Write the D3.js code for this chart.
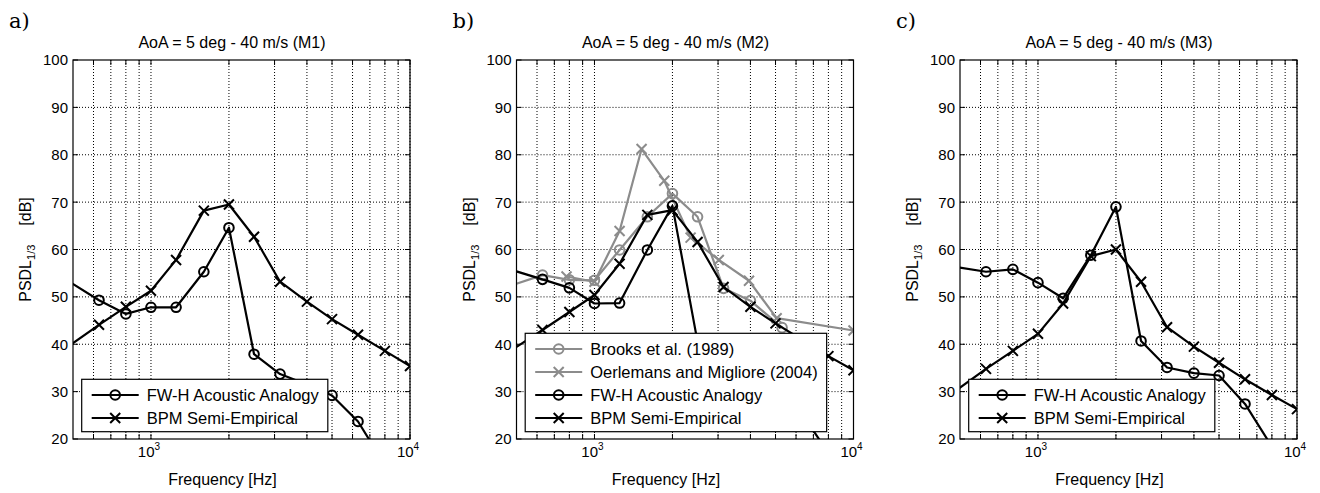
<!DOCTYPE html>
<html>
<head>
<meta charset="utf-8">
<script src="https://cdn.jsdelivr.net/npm/d3@7"></script>
<style>
  body { margin: 0; background: #fff; }
  svg text { font-family: "Liberation Sans", Arial, sans-serif; fill: #000; }
  .grid line { stroke: #000; stroke-width: 1; stroke-dasharray: 1,2; }
</style>
</head>
<body>
<div class="chart"></div>
<script>
// frequencies (1/3 octave, Hz)
var freqFull = [400, 630, 800, 1000, 1250, 1600, 2000, 2500, 3150, 4000, 5000, 6300, 8000, 10000];
var freqFwh  = [400, 630, 800, 1000, 1250, 1600, 2000, 2500, 3150, 4000, 5000, 6300, 8000];

// panel a (M1)
var fwhM1 = [56.0, 49.3, 46.4, 47.8, 47.8, 55.3, 64.6, 37.9, 33.7, 31.5, 29.2, 23.7, 14.5];
var bpmM1 = [36.5, 44.1, 47.9, 51.3, 57.8, 68.2, 69.5, 62.7, 53.2, 49.0, 45.3, 42.0, 38.6, 35.4];

// panel b (M2) + reference data
var freqBrooks = [400, 630, 800, 1000, 1250, 1600, 2000, 2500, 3150, 4000, 5300];
var brooks     = [51.0, 54.6, 53.6, 53.5, 59.9, 66.9, 71.8, 66.9, 51.8, 49.2, 43.5];
var freqOerl   = [780, 1000, 1250, 1520, 1860, 2350, 3020, 3950, 5050, 10000];
var oerlemans  = [54.3, 53.2, 63.9, 81.2, 74.5, 62.5, 57.8, 53.4, 45.5, 42.9];
var fwhM2 = [57.0, 53.7, 51.9, 48.6, 48.7, 59.9, 69.2, 40.5, 34.0, 31.0, 28.0, 25.5, 17.0];
var bpmM2 = [36.0, 43.0, 46.8, 50.4, 57.0, 67.3, 68.3, 61.6, 52.1, 47.9, 44.4, 41.0, 37.5, 34.5];

// panel c (M3)
var fwhM3 = [57.0, 55.3, 55.8, 53.0, 49.7, 58.8, 69.0, 40.7, 35.1, 33.9, 33.4, 27.4, 18.4];
var bpmM3 = [27.0, 34.8, 38.6, 42.2, 48.6, 58.6, 60.0, 53.2, 43.6, 39.5, 36.1, 32.6, 29.3, 26.3];

var yTicks = [20, 30, 40, 50, 60, 70, 80, 90, 100];
var xGrid = [600, 700, 800, 900, 1000, 2000, 3000, 4000, 5000, 6000, 7000, 8000, 9000, 10000];
var xMajor = [1000, 10000];

var gray = "#8c8c8c";

function zip(f, v) { return f.map(function(d, i){ return {f: d, v: v[i]}; }); }

var panels = [
  {letter: "a)", title: "AoA = 5 deg - 40 m/s (M1)", left: 73, series: [
    {name: "FW-H Acoustic Analogy", color: "#000", marker: "o", data: zip(freqFwh, fwhM1)},
    {name: "BPM Semi-Empirical", color: "#000", marker: "x", data: zip(freqFull, bpmM1)}
  ]},
  {letter: "b)", title: "AoA = 5 deg - 40 m/s (M2)", left: 516.5, series: [
    {name: "Brooks et al. (1989)", color: gray, marker: "o", data: zip(freqBrooks, brooks)},
    {name: "Oerlemans and Migliore (2004)", color: gray, marker: "x", data: zip(freqOerl, oerlemans)},
    {name: "FW-H Acoustic Analogy", color: "#000", marker: "o", data: zip(freqFwh, fwhM2)},
    {name: "BPM Semi-Empirical", color: "#000", marker: "x", data: zip(freqFull, bpmM2)}
  ]},
  {letter: "c)", title: "AoA = 5 deg - 40 m/s (M3)", left: 960, series: [
    {name: "FW-H Acoustic Analogy", color: "#000", marker: "o", data: zip(freqFwh, fwhM3)},
    {name: "BPM Semi-Empirical", color: "#000", marker: "x", data: zip(freqFull, bpmM3)}
  ]}
];

// axes size (same for the 3 panels)
var plotTop = 60, width = 337, height = 379;

var svg = d3.select(".chart").append("svg")
    .attr("width", 1320)
    .attr("height", 493);

function drawMarker(g, type, color) {
  if (type == "o") {
    g.append("circle").attr("r", 4.8)
      .attr("fill", "none").attr("stroke", color).attr("stroke-width", 2);
  } else {
    g.append("path").attr("d", "M-5,-5L5,5M5,-5L-5,5")
      .attr("fill", "none").attr("stroke", color).attr("stroke-width", 2);
  }
}

panels.forEach(function(p, pi) {

  var x = d3.scaleLog().domain([500, 10000]).range([0, width]);
  var y = d3.scaleLinear().domain([20, 100]).range([height, 0]);

  // panel letter (LaTeX-ish serif)
  svg.append("text")
      .attr("x", p.left - 64).attr("y", 28)
      .style("font-family", "'DejaVu Serif', 'Liberation Serif', serif")
      .style("font-size", "21px")
      .text(p.letter);

  var g = svg.append("g")
      .attr("transform", "translate(" + p.left + "," + plotTop + ")");

  // title
  g.append("text")
      .attr("x", width / 2 - 9.5).attr("y", -12)
      .attr("text-anchor", "middle")
      .style("font-size", "16px")
      .text(p.title);

  // grid
  var grid = g.append("g").attr("class", "grid");
  grid.selectAll(".gx").data(xGrid).enter().append("line")
      .attr("x1", function(d){ return x(d); }).attr("x2", function(d){ return x(d); })
      .attr("y1", 0).attr("y2", height);
  grid.selectAll(".gy").data(yTicks.slice(1, -1)).enter().append("line")
      .attr("x1", 0).attr("x2", width)
      .attr("y1", function(d){ return y(d); }).attr("y2", function(d){ return y(d); });

  // ticks (inside, all four sides)
  var ticks = g.append("g").attr("stroke", "#000").attr("stroke-width", 1);
  xGrid.forEach(function(d) {
    ticks.append("line").attr("x1", x(d)).attr("x2", x(d)).attr("y1", height).attr("y2", height - 5);
    ticks.append("line").attr("x1", x(d)).attr("x2", x(d)).attr("y1", 0).attr("y2", 5);
  });
  yTicks.forEach(function(d) {
    ticks.append("line").attr("x1", 0).attr("x2", 5).attr("y1", y(d)).attr("y2", y(d));
    ticks.append("line").attr("x1", width).attr("x2", width - 5).attr("y1", y(d)).attr("y2", y(d));
  });

  // y tick labels
  g.selectAll(".ylab").data(yTicks).enter().append("text")
      .attr("x", -5).attr("y", function(d){ return y(d); })
      .attr("dy", "0.36em")
      .attr("text-anchor", "end")
      .style("font-size", "15px")
      .text(function(d){ return d; });

  // x tick labels 10^3, 10^4
  xMajor.forEach(function(d) {
    var t = g.append("text")
        .attr("x", x(d) - 2).attr("y", height + 18)
        .attr("text-anchor", "middle")
        .style("font-size", "15px");
    t.append("tspan").text("10");
    t.append("tspan").attr("dy", -7).style("font-size", "10px").text(Math.round(Math.log10(d)));
  });

  // axis labels
  g.append("text")
      .attr("x", width / 2 - 19).attr("y", height + 46)
      .attr("text-anchor", "middle")
      .style("font-size", "16px")
      .text("Frequency [Hz]");

  var yl = g.append("text")
      .attr("transform", "translate(" + (-42) + "," + (height / 2) + ") rotate(-90)")
      .attr("text-anchor", "middle")
      .style("font-size", "16px");
  yl.append("tspan").text("PSDL");
  yl.append("tspan").attr("dy", 4).style("font-size", "11px").text("1/3");
  yl.append("tspan").attr("dy", -4).attr("dx", 19).text("[dB]");

  // data
  var clipId = "clip" + pi;
  g.append("clipPath").attr("id", clipId)
    .append("rect").attr("width", width).attr("height", height);

  var plot = g.append("g").attr("clip-path", "url(#" + clipId + ")");

  var line = d3.line()
      .x(function(d){ return x(d.f); })
      .y(function(d){ return y(d.v); });

  p.series.forEach(function(s) {
    plot.append("path")
        .datum(s.data)
        .attr("d", line)
        .attr("fill", "none")
        .attr("stroke", s.color)
        .attr("stroke-width", 2.2)
        .attr("stroke-linejoin", "round");
    s.data.forEach(function(d) {
      var m = plot.append("g").attr("transform", "translate(" + x(d.f) + "," + y(d.v) + ")");
      drawMarker(m, s.marker, s.color);
    });
  });

  // legend
  var n = p.series.length;
  var lh = n * 23 + 6.4;
  var leg = g.append("g")
      .attr("transform", "translate(" + 8.7 + "," + (height - 7.3 - lh) + ")");
  var box = leg.append("rect")
      .attr("height", lh)
      .attr("fill", "#fff").attr("stroke", "#000").attr("stroke-width", 1.2);
  var maxw = 0;
  p.series.forEach(function(s, i) {
    var cy = 15.7 + i * 23;
    leg.append("line")
        .attr("x1", 10).attr("x2", 57).attr("y1", cy).attr("y2", cy)
        .attr("stroke", s.color).attr("stroke-width", 2.2);
    var m = leg.append("g").attr("transform", "translate(33.5," + cy + ")");
    drawMarker(m, s.marker, s.color);
    var t = leg.append("text")
        .attr("x", 65).attr("y", cy).attr("dy", "0.36em")
        .style("font-size", "16.5px")
        .text(s.name);
    maxw = Math.max(maxw, t.node().getComputedTextLength());
  });
  box.attr("width", 65 + maxw + 9);

  // axes box on top
  g.append("rect")
      .attr("width", width).attr("height", height)
      .attr("fill", "none").attr("stroke", "#000").attr("stroke-width", 1.2);
});
</script>
</body>
</html>
